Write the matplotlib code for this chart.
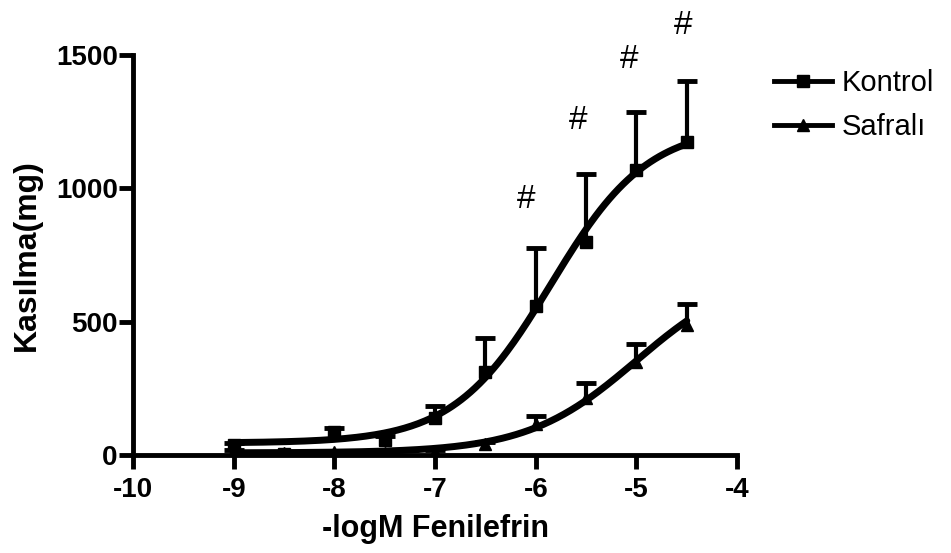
import numpy as np
import matplotlib.pyplot as plt

plt.rcParams['font.family'] = ['Liberation Sans', 'DejaVu Sans']
plt.rcParams['axes.unicode_minus'] = False

# -log molar concentration of phenylephrine
log_dose = [-9, -8.5, -8, -7.5, -7, -6.5, -6, -5.5, -5, -4.5]

kontrol_mean = [37, 5, 85, 58, 140, 310, 560, 800, 1068, 1172]
kontrol_sem = [8, 5, 15, 12, 42, 130, 215, 255, 218, 232]

safrali_mean = [15, 8, 10, 6, 12, 40, 115, 214, 349, 487]
safrali_sem = [5, 4, 4, 3, 5, 8, 30, 55, 66, 78]

# four-parameter logistic fits: bottom, top, logEC50, hill slope
kontrol_fit = [45, 1235, -5.85, 0.9]
safrali_fit = [8, 700, -5.0, 0.8]

# significance marks above the control curve
hash_x = [-6.1, -5.58, -5.07, -4.54]
hash_y = [960, 1255, 1485, 1610]


def logistic(x, p):
    bottom, top, ec50, hill = p
    return bottom + (top - bottom) / (1 + 10 ** ((ec50 - x) * hill))


def draw_series(ax, mean, sem, marker):
    x = np.array(log_dose)
    mean = np.array(mean)
    top = mean + np.array(sem)
    # upper error bars only
    ax.vlines(x, mean, top, color='black', lw=3, zorder=4)
    ax.plot(x, top, ls='none', marker='_', ms=15, mew=3.5, color='black', zorder=4)
    ax.plot(x, mean, ls='none', marker=marker, ms=9, color='black', zorder=5)


fig = plt.figure(figsize=(9.51, 5.53), dpi=100)
ax = fig.add_axes([0.1399, 0.1772, 0.6352, 0.7233])

xs = np.linspace(-9, -4.5, 200)
ax.plot(xs, logistic(xs, kontrol_fit), color='black', lw=5, solid_capstyle='round', zorder=3)
ax.plot(xs, logistic(xs, safrali_fit), color='black', lw=5, solid_capstyle='round', zorder=3)

draw_series(ax, kontrol_mean, kontrol_sem, 's')
draw_series(ax, safrali_mean, safrali_sem, '^')

for hx, hy in zip(hash_x, hash_y):
    ax.text(hx, hy, '#', fontsize=24, ha='center', va='center', clip_on=False)

ax.set_xlim(-10, -4)
ax.set_ylim(0, 1500)
ax.set_xticks([-10, -9, -8, -7, -6, -5, -4])
ax.set_yticks([0, 500, 1000, 1500])
for s in ['top', 'right']:
    ax.spines[s].set_visible(False)
for s in ['left', 'bottom']:
    ax.spines[s].set_linewidth(3.5)
ax.tick_params(width=3.5, length=10, labelsize=20)
ax.tick_params(axis='x', pad=6)
ax.tick_params(axis='y', pad=1)
for lab in ax.get_xticklabels() + ax.get_yticklabels():
    lab.set_fontweight('bold')

ax.set_xlabel('-logM Fenilefrin', fontsize=22, fontweight='bold', labelpad=8)
ax.set_ylabel('Kasılma(mg)', fontsize=23, fontweight='bold', labelpad=10)

# legend
h1, = ax.plot([], [], color='black', lw=3.5, marker='s', ms=8)
h2, = ax.plot([], [], color='black', lw=3.5, marker='^', ms=8)
fig.legend([h1, h2], ['Kontrol', 'Safralı'], loc='upper left',
           bbox_to_anchor=(0.814, 0.875), frameon=False, fontsize=21,
           handlelength=2.0, handletextpad=0.3, labelspacing=0.55,
           borderpad=0, borderaxespad=0)

fig.savefig('out.png', dpi=100)
